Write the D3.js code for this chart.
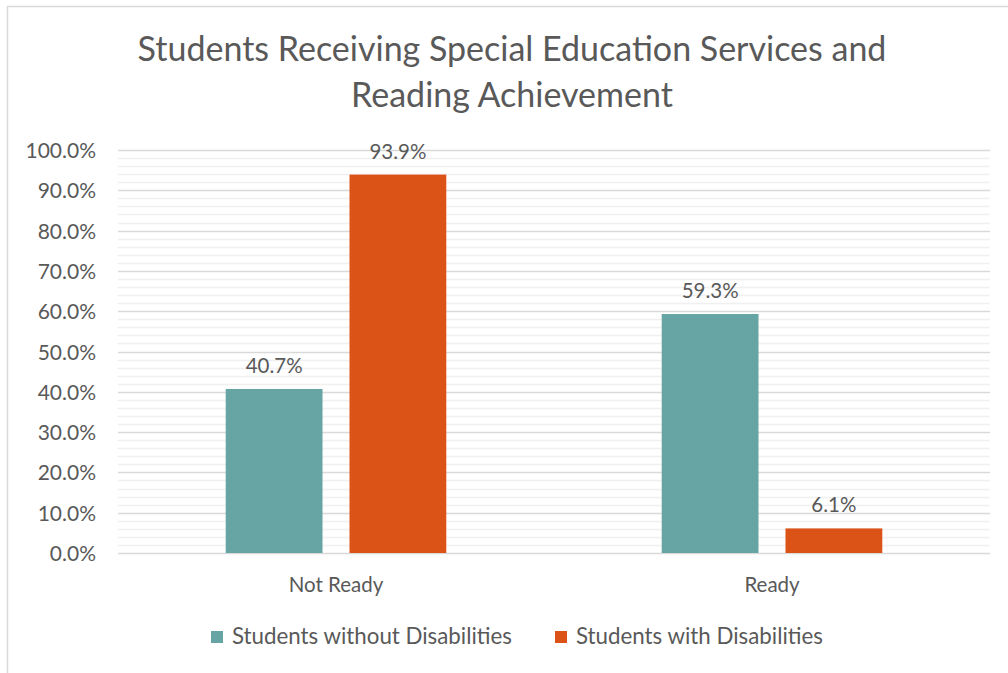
<!DOCTYPE html>
<html>
<head>
<meta charset="utf-8">
<script src="https://cdn.jsdelivr.net/npm/d3@7"></script>
<style>
  html, body { margin: 0; padding: 0; background: #fff; }
  svg { display: block; }
  text { font-family: Lato, "Open Sans", sans-serif; fill: #595959; }
</style>
</head>
<body>
<svg id="chart" width="1008" height="673"></svg>
<script>
// Chart data
const categories = ["Not Ready", "Ready"];
const seriesNames = ["Students without Disabilities", "Students with Disabilities"];
const withoutDisabilities = [40.7, 59.3];
const withDisabilities = [93.9, 6.1];
const seriesColors = ["#67a5a5", "#dc5318"];
const majorTicks = [0, 10, 20, 30, 40, 50, 60, 70, 80, 90, 100];
const titleLines = ["Students Receiving Special Education Services and", "Reading Achievement"];

const seriesValues = [withoutDisabilities, withDisabilities];
const FONT = "Lato, 'Open Sans', sans-serif";

const svg = d3.select("#chart");

// Chart frame
svg.append("rect")
  .attr("x", 7.5).attr("y", 6.5)
  .attr("width", 1010).attr("height", 680)
  .attr("fill", "#fff").attr("stroke", "#d9d9d9").attr("stroke-width", 1.5);

const plot = { left: 118, right: 990, top: 150, bottom: 553 };

const y = d3.scaleLinear().domain([0, 100]).range([plot.bottom, plot.top]);
const x0 = d3.scaleBand().domain(categories).range([plot.left, plot.right]).padding(0);
const x1 = d3.scaleBand().domain(d3.range(seriesNames.length))
  .range([0, x0.bandwidth()]).paddingInner(0.218).paddingOuter(0.87);

// Minor gridlines every 2%
const minor = d3.range(0, 101, 2).filter(v => v % 10 !== 0);
svg.append("g").selectAll("line").data(minor).join("line")
  .attr("x1", plot.left).attr("x2", plot.right)
  .attr("y1", d => Math.round(y(d)) + 0.5).attr("y2", d => Math.round(y(d)) + 0.5)
  .attr("stroke", "#f0f0f0").attr("stroke-width", 1.5);

// Major gridlines
svg.append("g").selectAll("line").data(majorTicks).join("line")
  .attr("x1", plot.left).attr("x2", plot.right)
  .attr("y1", d => Math.round(y(d)) + 0.5).attr("y2", d => Math.round(y(d)) + 0.5)
  .attr("stroke", "#d9d9d9").attr("stroke-width", 1.5);

// Y axis labels
const yAxis = d3.axisLeft(y).tickValues(majorTicks)
  .tickFormat(d => d.toFixed(1) + "%").tickSize(0).tickPadding(0);
const yg = svg.append("g").attr("transform", `translate(${plot.left - 22},0)`).call(yAxis);
yg.select(".domain").remove();
yg.selectAll("text").attr("font-size", 21).attr("fill", "#595959")
  .style("font-family", FONT).attr("dy", "0.36em");

// Bars
const groups = svg.append("g").selectAll("g").data(categories).join("g")
  .attr("transform", d => `translate(${x0(d)},0)`);

groups.selectAll("rect")
  .data((c, ci) => seriesValues.map((vals, si) => ({ si, v: vals[ci] })))
  .join("rect")
  .attr("x", d => x1(d.si))
  .attr("width", x1.bandwidth())
  .attr("y", d => y(d.v))
  .attr("height", d => y(0) - y(d.v))
  .attr("fill", d => seriesColors[d.si]);

// Value labels
groups.selectAll("text.val")
  .data((c, ci) => seriesValues.map((vals, si) => ({ si, v: vals[ci] })))
  .join("text")
  .attr("class", "val")
  .attr("x", d => x1(d.si) + x1.bandwidth() / 2)
  .attr("y", d => y(d.v) - 16)
  .attr("text-anchor", "middle")
  .attr("font-size", 20.5)
  .attr("fill", "#404040")
  .style("font-family", FONT)
  .text(d => d.v.toFixed(1) + "%");

// X axis category labels
const xAxis = d3.axisBottom(x0).tickSize(0).tickPadding(0);
const xg = svg.append("g").attr("transform", `translate(0,${plot.bottom + 39})`).call(xAxis);
xg.select(".domain").remove();
xg.selectAll("text").attr("font-size", 20.5).attr("fill", "#595959")
  .style("font-family", FONT).attr("dy", 0);

// Title
svg.append("text")
  .attr("x", 512).attr("y", 61)
  .attr("text-anchor", "middle").attr("font-size", 34).attr("fill", "#595959")
  .style("font-family", FONT)
  .selectAll("tspan").data(titleLines).join("tspan")
  .attr("x", 512).attr("dy", (d, i) => i === 0 ? 0 : 46)
  .text(d => d);

// Legend
const legendItems = [
  { name: seriesNames[0], color: seriesColors[0], x: 211 },
  { name: seriesNames[1], color: seriesColors[1], x: 555 }
];
const lg = svg.append("g").selectAll("g").data(legendItems).join("g")
  .attr("transform", d => `translate(${d.x},0)`);
lg.append("rect").attr("x", 0).attr("y", 631).attr("width", 12).attr("height", 12)
  .attr("fill", d => d.color);
lg.append("text").attr("x", 21).attr("y", 644).attr("font-size", 22.3).attr("fill", "#595959")
  .style("font-family", FONT)
  .text(d => d.name);
</script>
</body>
</html>
